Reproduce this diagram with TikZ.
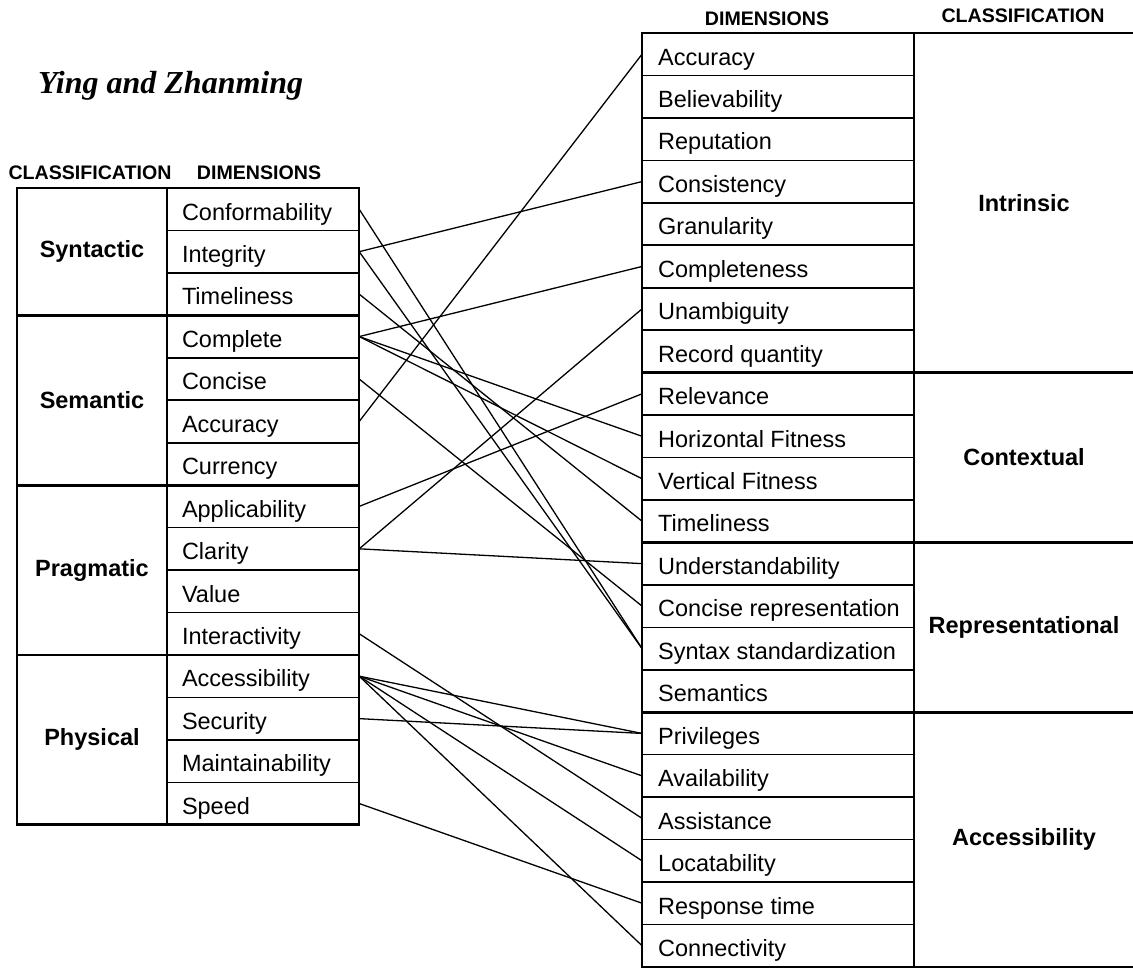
\documentclass[tikz,border=0pt]{standalone}
\usepackage{fontspec}
\setmainfont{Liberation Sans}
\newfontfamily\titlefont{Liberation Serif}
\begin{document}
\begin{tikzpicture}[x=1pt,y=-1pt,
  dimL/.style={minimum height=42.45pt, inner xsep=15pt, inner ysep=0pt, text width=162pt, text height=24pt, text depth=2.4pt, align=left, font=\fontsize{23.5}{28}\selectfont},
  dimR/.style={anchor=west, minimum height=42.45pt, inner xsep=16pt, inner ysep=0pt, text height=24pt, text depth=2.4pt, font=\fontsize{23.5}{28}\selectfont},
  cls/.style={font=\fontsize{23.5}{28}\selectfont\bfseries, inner sep=0pt},
  hdr/.style={anchor=base, font=\fontsize{19.6}{22}\selectfont\bfseries, inner sep=0pt},
  thickline/.style={line width=2.7pt},
  rowline/.style={line width=1.6pt},
  divline/.style={line width=2.3pt},
  conn/.style={line width=1.3pt}
]
\useasboundingbox (0,0) rectangle (1133,969);

% title and headers
\node[anchor=base west, inner sep=0pt, font=\titlefont\fontsize{32}{36}\selectfont\bfseries\itshape] (title) at (38,93) {Ying and Zhanming};
\node[hdr] (hl1) at (90,179) {CLASSIFICATION};
\node[hdr] (hl2) at (259,179) {DIMENSIONS};
\node[hdr] (hr1) at (767,25) {DIMENSIONS};
\node[hdr] (hr2) at (1023,23) {CLASSIFICATION};

% left dimension cells
\foreach \n/\t [count=\i from 0] in {lconf/Conformability, linteg/Integrity, ltime/Timeliness, lcomp/Complete, lconc/Concise, lacc/Accuracy, lcurr/Currency, lappl/Applicability, lclar/Clarity, lval/Value, linter/Interactivity, laccs/Accessibility, lsec/Security, lmaint/Maintainability, lspeed/Speed}
  \node[dimL] (\n) at (263,{188+42.45*(\i+0.5)}) {\t};

% right dimension cells
\foreach \n/\t [count=\i from 0] in {racc/Accuracy, rbel/Believability, rrep/Reputation, rcons/Consistency, rgran/Granularity, rcompl/Completeness, runamb/Unambiguity, rrec/Record quantity, rrel/Relevance, rhor/Horizontal Fitness, rver/Vertical Fitness, rtime/Timeliness, rund/Understandability, rconc/Concise representation, rsyn/Syntax standardization, rsem/Semantics, rpriv/Privileges, ravail/Availability, rassist/Assistance, rloc/Locatability, rresp/Response time, rconn/Connectivity}
  \node[dimR] (\n) at (642,{33+42.45*(\i+0.5)}) {\t};

% classification labels
\node[cls] (syn) at (92,251.7) {Syntactic};
\node[cls] (sem) at (92,400.25) {Semantic};
\node[cls] (prag) at (92,570) {Pragmatic};
\node[cls] (phys) at (92,739.85) {Physical};
\node[cls] (intr) at (1024,202.8) {Intrinsic};
\node[cls] (ctx) at (1024,457.5) {Contextual};
\node[cls] (repr) at (1024,627.3) {Representational};
\node[cls] (accg) at (1024,839.55) {Accessibility};

% connectors
\foreach \a/\b in {lconf/rsyn, linteg/rcons, linteg/rsyn, ltime/rtime, lcomp/rcompl, lcomp/rhor, lcomp/rver, lconc/rconc, lacc/racc, lappl/rrel, lclar/runamb, lclar/rund, linter/rassist, laccs/rpriv, laccs/ravail, laccs/rloc, laccs/rconn, lsec/rpriv, lspeed/rresp}
  \draw[conn] (\a.east) -- (\b.west);

% left table grid
\foreach \k in {1,2,4,5,6,8,9,10,12,13,14}
  \draw[rowline] (167,{188+42.45*\k}) -- (359,{188+42.45*\k});
\foreach \k in {3,7,11}
  \draw[thickline] (17,{188+42.45*\k}) -- (359,{188+42.45*\k});
\draw[divline] (167,188) -- (167,824.75);
\draw[thickline] (17,188) rectangle (359,824.75);

% right table grid
\foreach \k in {1,2,3,4,5,6,7,9,10,11,13,14,15,17,18,19,20,21}
  \draw[rowline] (642,{33+42.45*\k}) -- (914,{33+42.45*\k});
\foreach \k in {8,12,16}
  \draw[thickline] (642,{33+42.45*\k}) -- (1133,{33+42.45*\k});
\draw[thickline] (1133,33) -- (642,33) -- (642,966.9) -- (1133,966.9);
\draw[divline] (914,33) -- (914,966.9);
\end{tikzpicture}
\end{document}
